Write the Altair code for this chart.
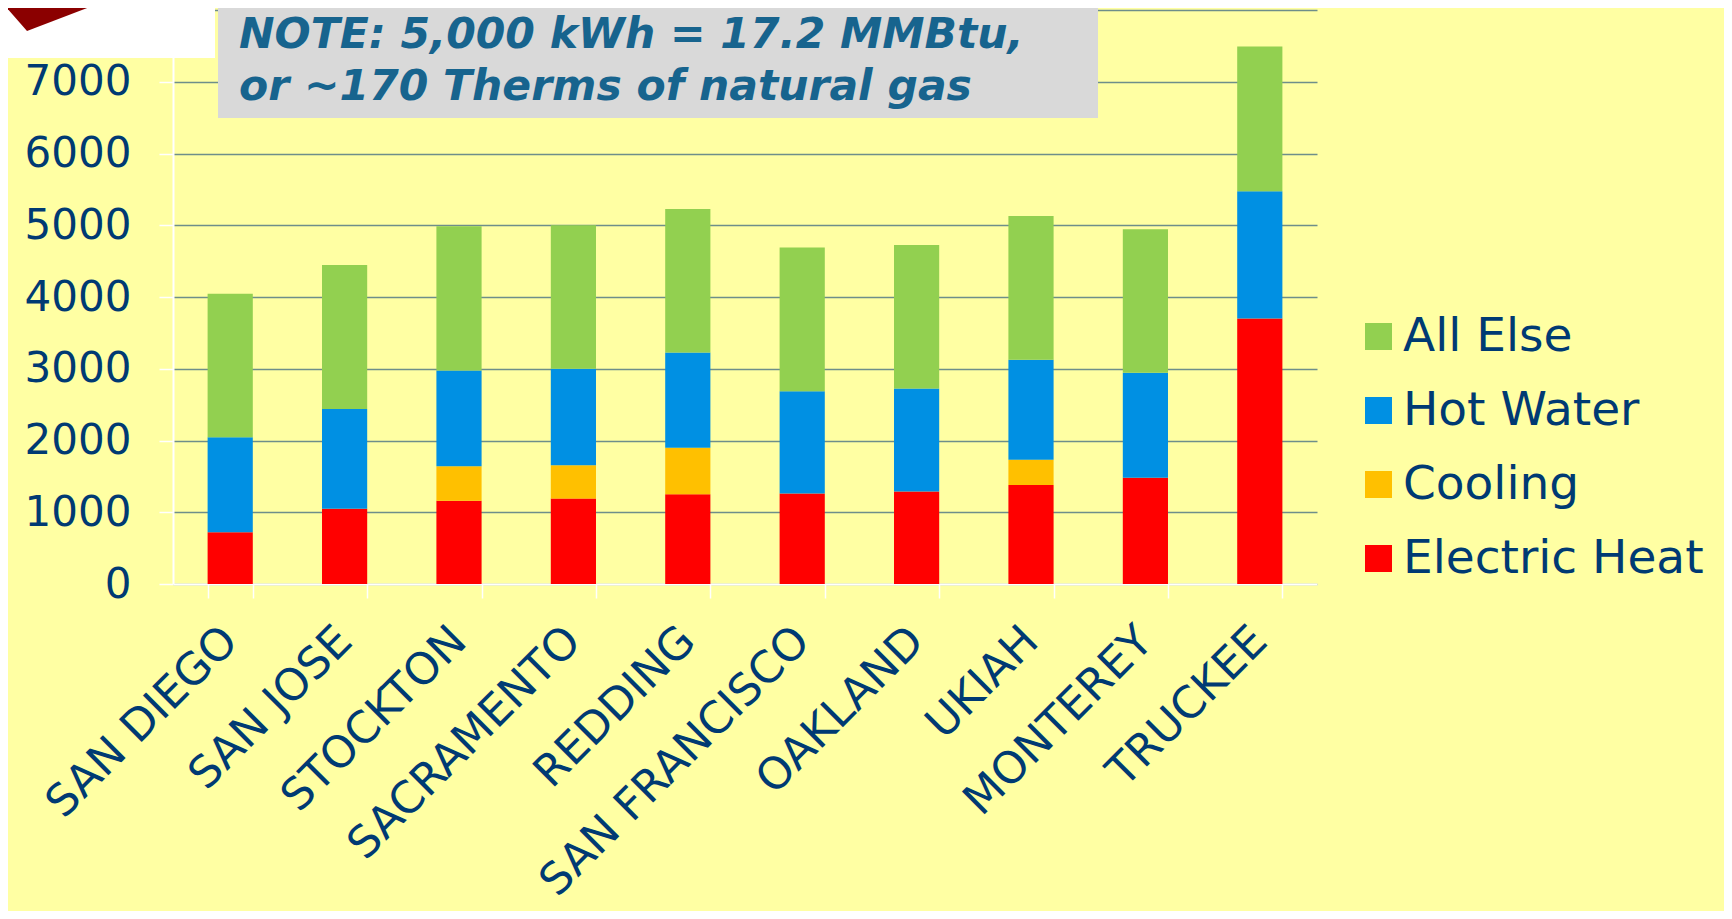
import altair as alt
import pandas as pd

cities = ["SAN DIEGO", "SAN JOSE", "STOCKTON", "SACRAMENTO", "REDDING",
          "SAN FRANCISCO", "OAKLAND", "UKIAH", "MONTEREY", "TRUCKEE"]
electric_heat = [720, 1050, 1160, 1190, 1250, 1260, 1290, 1380, 1480, 3700]
cooling = [0, 0, 480, 465, 650, 0, 0, 350, 0, 0]
hot_water = [1325, 1390, 1335, 1345, 1325, 1425, 1435, 1395, 1465, 1775]
all_else = [2000, 2005, 2010, 2000, 2000, 2005, 2000, 2005, 2000, 2015]

series_names = ["Electric Heat", "Cooling", "Hot Water", "All Else"]
series_vals = [electric_heat, cooling, hot_water, all_else]
legend_order = ["All Else", "Hot Water", "Cooling", "Electric Heat"]
legend_colors = ["#92D050", "#0090E3", "#FFC000", "#FF0000"]
y_ticks = [0, 1000, 2000, 3000, 4000, 5000, 6000, 7000, 8000]
note_lines = ["NOTE: 5,000 kWh = 17.2 MMBtu,", "or ~170 Therms of natural gas"]

rows = []
for si, (name, vals) in enumerate(zip(series_names, series_vals)):
    for c, v in zip(cities, vals):
        rows.append({"city": c, "series": name, "value": v, "ord": si})
df = pd.DataFrame(rows)

FONT = "DejaVu Sans"
NAVY = "#003A73"
BG = "#FFFFA3"

bars = alt.Chart(df).mark_bar().encode(
    x=alt.X("city:N", sort=cities,
            scale=alt.Scale(paddingInner=0.605, paddingOuter=0.3025),
            axis=alt.Axis(title=None, labelAngle=315, labelAlign="right",
                          labelBaseline="middle", labelFontSize=44,
                          labelFont=FONT, labelColor=NAVY, labelPadding=36,
                          labelLimit=0,
                          tickBand="extent", tickColor="white", tickSize=14,
                          tickWidth=1.5, domainColor="white", domainWidth=2,
                          grid=False, labelOverlap=False)),
    y=alt.Y("value:Q", stack="zero",
            scale=alt.Scale(domain=[0, 8000], nice=False),
            axis=alt.Axis(title=None, values=y_ticks, labelFontSize=42,
                          labelFont=FONT, labelColor=NAVY, labelPadding=28,
                          labelExpr="datum.value == 8000 ? '' : datum.label",
                          format="d", tickColor="white", tickSize=14,
                          tickWidth=1.5, domainColor="white", domainWidth=2,
                          grid=True, gridColor="#6E8E8A", gridWidth=1.6)),
    color=alt.Color("series:N",
                    scale=alt.Scale(domain=legend_order, range=legend_colors),
                    legend=alt.Legend(title=None, orient="none",
                                      legendX=1182, legendY=303,
                                      symbolType="square", symbolSize=729,
                                      symbolStrokeWidth=0, labelFontSize=47,
                                      labelFont=FONT, labelColor=NAVY,
                                      labelOffset=1, rowPadding=26,
                                      labelLimit=0)),
    order=alt.Order("ord:Q", sort="ascending"),
)

one = alt.Data(values=[{"k": 0}])

white_box = alt.Chart(one).mark_rect(color="white").encode(
    x=alt.value(-170), x2=alt.value(42), y=alt.value(-5), y2=alt.value(48))

triangle = alt.Chart(one).mark_point(
    shape="M-0.96,-0.3L0.94,-0.2L-0.42,0.32Z", filled=True,
    color="#8B0000", opacity=1, size=10000, strokeWidth=0).encode(
    x=alt.value(-125), y=alt.value(5))

note_box = alt.Chart(one).mark_rect(color="#D9D9D9").encode(
    x=alt.value(45), x2=alt.value(925), y=alt.value(-10), y2=alt.value(108))

note_df = pd.DataFrame({"t": note_lines, "i": [0, 1]})
note_text = alt.Chart(note_df).mark_text(
    align="left", baseline="alphabetic", font=FONT, fontSize=42.5,
    fontWeight="bold", fontStyle="italic", color="#17648E").encode(
    x=alt.value(66),
    y=alt.Y("i:Q", scale=alt.Scale(domain=[0, 1], range=[38, 90]), axis=None),
    text="t:N")

chart = alt.layer(bars, white_box, triangle, note_box, note_text).resolve_scale(
    y="independent"
).properties(
    width=1144, height=574, background=BG,
    autosize=alt.AutoSizeParams(type="none"),
    padding={"left": 165, "top": 2, "right": 407, "bottom": 327},
).configure_view(stroke=None)

chart.save("out.html", embed_options={"renderer": "svg", "actions": False})
